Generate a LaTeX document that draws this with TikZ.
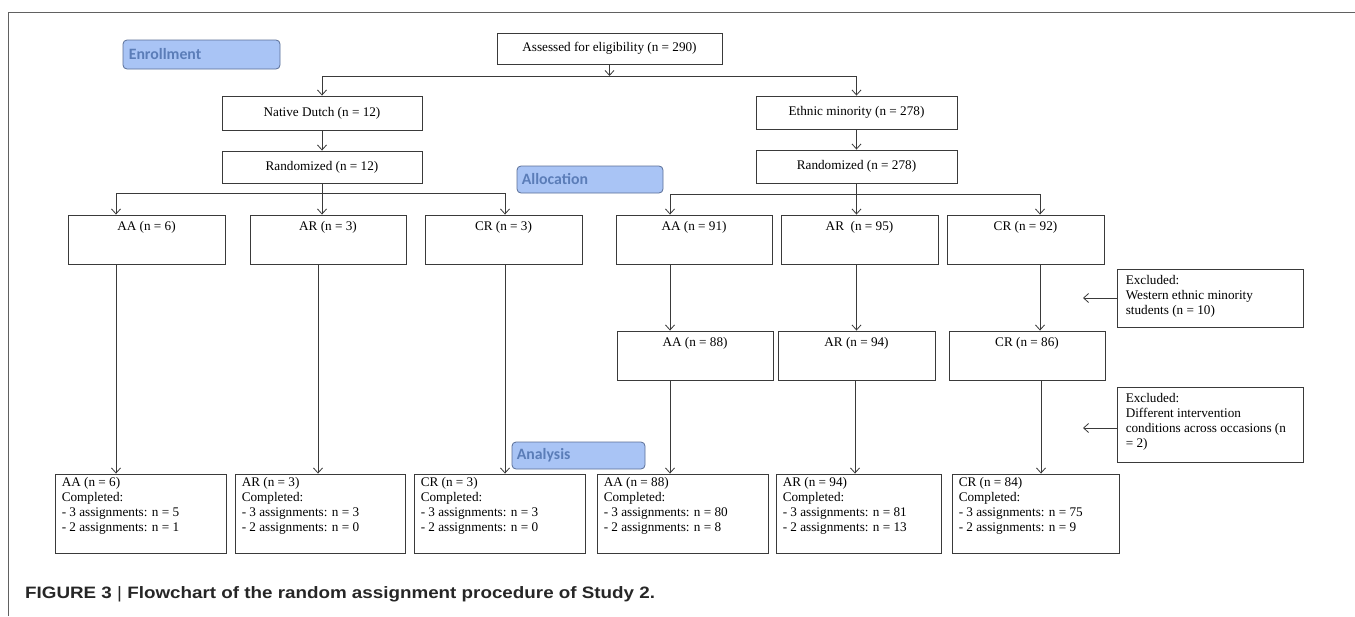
\documentclass[tikz,border=0pt]{standalone}
\usepackage{fontspec}
\setmainfont{Liberation Serif}
\newfontfamily\phasefont{Carlito}
\newfontfamily\capfont{Liberation Sans}
\usetikzlibrary{arrows.meta}
\definecolor{ln}{HTML}{3A3A3A}
\definecolor{phfill}{HTML}{A9C4F5}
\definecolor{phdraw}{HTML}{5A6E96}
\definecolor{phtext}{HTML}{5B7DB8}
\begin{document}
\begin{tikzpicture}[x=1pt,y=-1pt,
  bx/.style={draw=ln,line width=0.9pt,rectangle,inner sep=0pt},
  ctext/.style={anchor=north,inner sep=0pt,yshift=-7pt,font=\fontsize{13.2}{14.7}\selectfont},
  ltext/.style={anchor=north west,inner sep=0pt,xshift=7pt,yshift=-4pt,align=left,font=\fontsize{13.2}{14.7}\selectfont},
  mtext/.style={font=\fontsize{13.2}{14.7}\selectfont},
  phase/.style={draw=phdraw,fill=phfill,line width=0.8pt,rounded corners=4pt,inner sep=0pt},
  phtxt/.style={anchor=west,inner sep=0pt,text=phtext,font=\phasefont\bfseries\fontsize{15.8}{18}\selectfont},
  ln/.style={draw=ln,line width=0.8pt},
  ar/.style={ln,-{Straight Barb[length=5pt,width=9pt,line width=0.8pt]}},
]
\useasboundingbox (0,0) rectangle (1355,616);
% frame
\draw[draw=ln!80,line width=1pt] (8,616) -- (8,12) -- (1355,12);

% phase labels
\node[phase,minimum width=157,minimum height=29] (enr) at (201.5,54.5) {};
\node[phtxt] (enrt) at ([xshift=6pt]enr.west) {Enrollment};
\node[phase,minimum width=146,minimum height=27] (alloc) at (590,179.5) {};
\node[phtxt] (alloct) at ([xshift=5pt]alloc.west) {Allocation};
\node[phase,minimum width=133,minimum height=27] (anal) at (578.5,455.5) {};
\node[phtxt] (analt) at ([xshift=5pt]anal.west) {Analysis};

% top boxes
\node[bx,mtext,minimum width=225,minimum height=31] (assess) at (609.5,48.5) {Assessed for eligibility (n = 290)};
\node[bx,mtext,minimum width=200,minimum height=34] (nd) at (322,113) {Native Dutch (n = 12)};
\node[bx,mtext,minimum width=200,minimum height=32] (r12) at (322,167) {Randomized (n = 12)};
\node[bx,mtext,minimum width=201,minimum height=33] (em) at (856.5,112.5) {Ethnic minority (n = 278)};
\node[bx,mtext,minimum width=201,minimum height=33] (r278) at (856.5,166.5) {Randomized (n = 278)};

% row 3
\node[bx,minimum width=157,minimum height=49,label={[ctext]north:AA (n = 6)}] (aa6) at (146.5,239.5) {};
\node[bx,minimum width=156,minimum height=49,label={[ctext]north:AR (n = 3)}] (ar3) at (328,239.5) {};
\node[bx,minimum width=157,minimum height=49,label={[ctext]north:CR (n = 3)}] (cr3) at (503.5,239.5) {};
\node[bx,minimum width=156,minimum height=49,label={[ctext]north:AA (n = 91)}] (aa91) at (694,239.5) {};
\node[bx,minimum width=157,minimum height=49,label={[ctext]north:AR\ \ (n = 95)}] (ar95) at (859.5,239.5) {};
\node[bx,minimum width=157,minimum height=49,label={[ctext]north:CR (n = 92)}] (cr92) at (1025.5,239.5) {};

% row 4
\node[bx,minimum width=156,minimum height=49,label={[ctext]north:AA (n = 88)}] (aa88) at (695,355.5) {};
\node[bx,minimum width=157,minimum height=49,label={[ctext]north:AR (n = 94)}] (ar94) at (856.5,355.5) {};
\node[bx,minimum width=156,minimum height=49,label={[ctext]north:CR (n = 86)}] (cr86) at (1027,355.5) {};

% exclusions
\node[bx,minimum width=186,minimum height=58,label={[ltext,xshift=2pt,yshift=-3pt]north west:Excluded:\\Western ethnic minority\\students (n = 10)}] (ex1) at (1210,298) {};
\node[bx,minimum width=186,minimum height=75,label={[ltext,xshift=2pt,yshift=-3pt]north west:Excluded:\\Different intervention\\conditions across occasions (n\\= 2)}] (ex2) at (1210,424.5) {};

% row 5
\node[bx,minimum width=171,minimum height=79,label={[ltext]north west:AA (n = 6)\\Completed:\\- 3 assignments: n = 5\\- 2 assignments: n = 1}] (aa6b) at (140.5,513.5) {};
\node[bx,minimum width=170,minimum height=79,label={[ltext]north west:AR (n = 3)\\Completed:\\- 3 assignments: n = 3\\- 2 assignments: n = 0}] (ar3b) at (320,513.5) {};
\node[bx,minimum width=171,minimum height=79,label={[ltext]north west:CR (n = 3)\\Completed:\\- 3 assignments: n = 3\\- 2 assignments: n = 0}] (cr3b) at (499.5,513.5) {};
\node[bx,minimum width=171,minimum height=79,label={[ltext]north west:AA (n = 88)\\Completed:\\- 3 assignments: n = 80\\- 2 assignments: n = 8}] (aa88b) at (682.5,513.5) {};
\node[bx,minimum width=165,minimum height=79,label={[ltext]north west:AR (n = 94)\\Completed:\\- 3 assignments: n = 81\\- 2 assignments: n = 13}] (ar94b) at (858.5,513.5) {};
\node[bx,minimum width=167,minimum height=79,label={[ltext]north west:CR (n = 84)\\Completed:\\- 3 assignments: n = 75\\- 2 assignments: n = 9}] (cr84b) at (1035.5,513.5) {};

% helper coordinates
\coordinate (s1) at (609.5,76);
\coordinate (vA) at (116,193);
\coordinate (vB) at (318,0);
\coordinate (vC) at (505,193);
\coordinate (vD) at (670,194);
\coordinate (vE) at (856.5,194);
\coordinate (vF) at (1040,194);
\coordinate (vG) at (855,0);
\coordinate (vH) at (1041,0);
\coordinate (t1) at (1083,298);
\coordinate (t2) at (1083,428);

% connectors
\draw[ar] (assess.south) -- (s1);
\draw[ar] (s1) -| (nd.north);
\draw[ar] (s1) -| (em.north);
\draw[ar] (nd.south) -- (r12.north);
\draw[ar] (em.south) -- (r278.north);

\draw[ar] (r12.south) -- (r12.south |- ar3.north);
\draw[ln] (vA) -- (vC);
\draw[ar] (vA) -- (vA |- aa6.north);
\draw[ar] (vC) -- (vC |- cr3.north);

\draw[ar] (r278.south) -- (r278.south |- ar95.north);
\draw[ln] (vD) -- (vF);
\draw[ar] (vD) -- (vD |- aa91.north);
\draw[ar] (vF) -- (vF |- cr92.north);

\draw[ar] (aa6.south -| vA) -- (aa6b.north -| vA);
\draw[ar] (ar3.south -| vB) -- (ar3b.north -| vB);
\draw[ar] (cr3.south -| vC) -- (cr3b.north -| vC);

\draw[ar] (aa91.south -| vD) -- (aa88.north -| vD);
\draw[ar] (ar95.south -| vE) -- (ar94.north -| vE);
\draw[ar] (cr92.south -| vF) -- (cr86.north -| vF);

\draw[ar] (aa88.south -| vD) -- (aa88b.north -| vD);
\draw[ar] (ar94.south -| vG) -- (ar94b.north -| vG);
\draw[ar] (cr86.south -| vH) -- (cr84b.north -| vH);

\draw[ar] (ex1.west) -- (t1);
\draw[ar] (ex2.west |- t2) -- (t2);

% caption
\node[anchor=base west,inner sep=0pt,text=black!85] (cap) at (25,598) {\scalebox{1.14}[1]{\capfont\bfseries\fontsize{16.5}{19}\selectfont FIGURE 3 {\mdseries|} Flowchart of the random assignment procedure of Study 2.}};
\end{tikzpicture}
\end{document}
